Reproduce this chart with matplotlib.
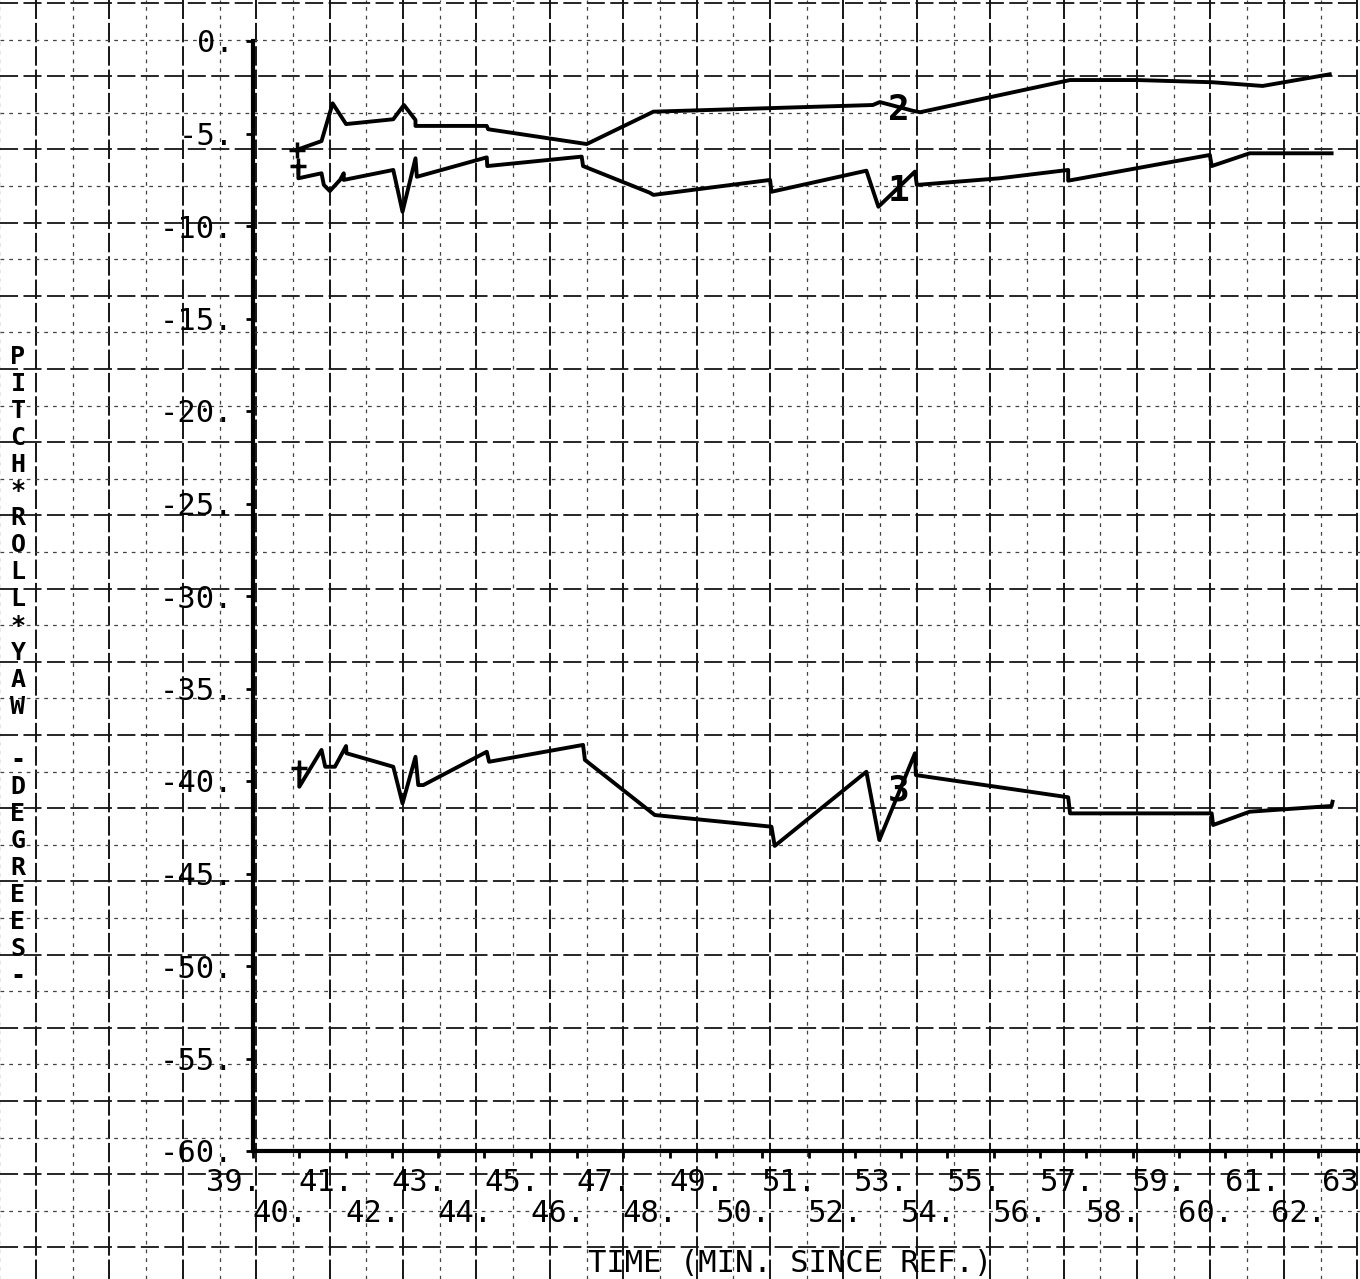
import numpy as np
import matplotlib.pyplot as plt

# curve 2 (top)
t2 = [39.94, 40.48, 40.72, 41.01, 42.03, 42.26, 42.51, 42.51, 44.05, 44.08, 46.21,
      47.65, 52.39, 52.54, 53.25, 53.41, 56.65, 58.09, 59.73, 60.81, 62.26]
v2 = [-5.89, -5.41, -3.37, -4.49, -4.23, -3.46, -4.27, -4.59, -4.59, -4.77, -5.57,
      -3.82, -3.46, -3.30, -3.77, -3.85, -2.11, -2.11, -2.23, -2.43, -1.80]

# curve 1 (middle)
t1 = [39.98, 39.98, 40.48, 40.53, 40.66, 40.88, 40.96, 40.96, 42.03, 42.23, 42.51,
      42.54, 44.05, 44.06, 46.10, 46.13, 47.57, 47.65, 50.17, 50.20, 52.25, 52.51,
      53.30, 53.34, 55.13, 56.61, 56.61, 59.67, 59.71, 60.53, 62.30]
v1 = [-6.76, -7.42, -7.15, -7.78, -8.11, -7.51, -7.15, -7.51, -6.97, -9.23, -6.34,
      -7.34, -6.29, -6.76, -6.25, -6.76, -8.20, -8.32, -7.51, -8.15, -7.01, -8.96,
      -7.06, -7.78, -7.42, -6.97, -7.55, -6.16, -6.76, -6.07, -6.07]

# curve 3 (bottom)
t3 = [40.00, 40.00, 40.48, 40.56, 40.77, 41.01, 41.02, 42.03, 42.23, 42.51, 42.57,
      42.68, 44.05, 44.10, 46.13, 46.17, 47.68, 50.20, 50.27, 52.25, 52.53, 53.30,
      53.32, 56.61, 56.65, 59.71, 59.74, 60.53, 62.30, 62.32]
v3 = [-39.31, -40.31, -38.32, -39.23, -39.23, -38.11, -38.50, -39.23, -41.21, -38.69, -40.22,
      -40.22, -38.42, -38.96, -38.05, -38.86, -41.84, -42.47, -43.51, -39.50, -43.19, -38.50,
      -39.68, -40.88, -41.75, -41.75, -42.38, -41.66, -41.35, -41.12]

curve_labels = ['2', '1', '3']
label_t = [52.95, 52.95, 52.95]
label_v = [-3.75, -8.1, -40.5]

xticks = list(range(39, 64))
yticks = list(range(0, -61, -5))
ylabel = 'PITCH*ROLL*YAW -DEGREES-'
xlabel = 'TIME (MIN. SINCE REF.)'

W, H = 1360, 1279
fig = plt.figure(figsize=(W / 100, H / 100), dpi=100)
mono = 'DejaVu Sans Mono'

# graph paper background
bg = fig.add_axes([0, 0, 1, 1])
bg.set_xlim(0, W)
bg.set_ylim(H, 0)
bg.axis('off')
for k, x in enumerate(np.arange(36 - 36.7, W, 36.7)):
    if k % 2 == 1:
        bg.axvline(x, color='#151515', lw=1.4, ls=(0, (10, 2)))
    else:
        bg.axvline(x, color='#444', lw=0.9, ls=(0, (3, 4)))
for k, y in enumerate(np.arange(3, H, 36.6)):
    if k % 2 == 0:
        bg.axhline(y, color='#151515', lw=1.3, ls=(0, (10, 3)))
    else:
        bg.axhline(y, color='#444', lw=0.9, ls=(0, (3, 4)))

# data axes: x=39 at px 253, x=63 at px 1364, y=0 at px 41, y=-60 at px 1151
ax = fig.add_axes([253 / W, 1 - 1151 / H, (1364 - 253) / W, (1151 - 41) / H])
ax.patch.set_alpha(0)
ax.set_xlim(39, 63)
ax.set_ylim(-60, 0)
for s in ['top', 'right']:
    ax.spines[s].set_visible(False)
ax.spines['left'].set_linewidth(3)
ax.spines['bottom'].set_linewidth(3)

ax.plot(t2, v2, color='black', lw=2.8)
ax.plot(t1, v1, color='black', lw=2.8)
ax.plot(t3, v3, color='black', lw=2.8)
for tt, vv in [(t2, v2), (t1, v1), (t3, v3)]:
    ax.plot(tt[0], vv[0], marker='+', color='black', ms=11, mew=2.5)

for lab, tt, vv in zip(curve_labels, label_t, label_v):
    ax.text(tt, vv, lab, fontsize=26, family=mono, fontweight='bold',
            ha='center', va='center')

ax.set_yticks(yticks)
ax.set_yticklabels([f'{v}.' for v in yticks], family=mono, fontsize=22)
ax.tick_params(axis='y', direction='out', length=5, width=2, pad=9)
ax.set_xticks(xticks)
ax.set_xticklabels([])
ax.tick_params(axis='x', direction='out', length=5, width=2)

for v in xticks:
    lab = f'{v}.' if v != 63 else '63'
    dy = -23 if v % 2 == 1 else -45
    ax.annotate(lab, xy=(v, 0), xycoords=('data', 'axes fraction'),
                xytext=(6 if v != 63 else -4, dy), textcoords='offset points',
                ha='right', va='center', family=mono, fontsize=22)

fig.text(790 / W, 1 - 1263 / H, xlabel, ha='center', va='center', family=mono, fontsize=22)

for i, ch in enumerate(ylabel):
    fig.text(18 / W, 1 - (357 + i * 26.9) / H, ch, ha='center', va='center',
             family=mono, fontsize=18, fontweight='bold')

fig.savefig('out.png', dpi=100, facecolor='white')
